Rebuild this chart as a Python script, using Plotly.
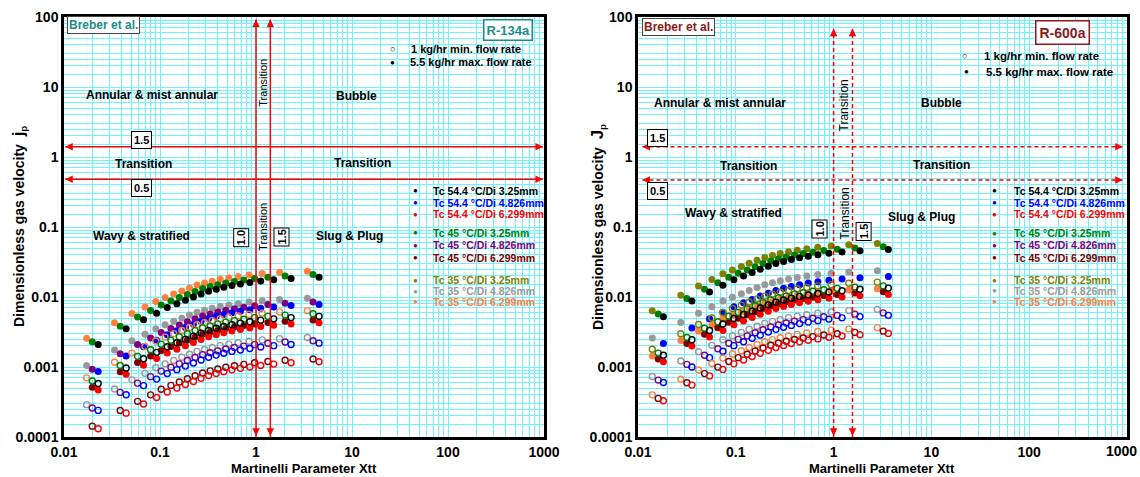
import math
import plotly.graph_objects as go

W, H = 1140, 477
FONT = "Arial, 'Liberation Sans', sans-serif"
GRID = "#6FF3FF"

# ---------------- DATA ----------------
# Martinelli parameter Xtt (one array per condensing-temperature group)
xtt_134a_35 = [0.0172, 0.0336, 0.0510, 0.0698, 0.0904, 0.113, 0.139, 0.169, 0.203, 0.243,
               0.291, 0.350, 0.424, 0.521, 0.653, 0.846, 1.16, 1.76, 3.43]
xtt_134a_45 = [0.0197, 0.0385, 0.0584, 0.0798, 0.103, 0.130, 0.159, 0.193, 0.232, 0.278,
               0.333, 0.400, 0.485, 0.596, 0.747, 0.968, 1.33, 2.01, 3.93]
xtt_134a_54 = [0.0227, 0.0444, 0.0674, 0.0922, 0.119, 0.150, 0.184, 0.223, 0.268, 0.321,
               0.385, 0.462, 0.561, 0.688, 0.863, 1.12, 1.53, 2.32, 4.54]

xtt_600a_35 = [0.0140, 0.0274, 0.0416, 0.0569, 0.0737, 0.0923, 0.114, 0.137, 0.165, 0.198,
               0.237, 0.285, 0.346, 0.425, 0.532, 0.689, 0.944, 1.43, 2.80]
xtt_600a_45 = [0.0161, 0.0316, 0.0479, 0.0655, 0.0848, 0.106, 0.131, 0.158, 0.190, 0.228,
               0.273, 0.328, 0.398, 0.489, 0.613, 0.794, 1.09, 1.65, 3.22]
xtt_600a_54 = [0.0182, 0.0356, 0.0539, 0.0738, 0.0956, 0.120, 0.147, 0.178, 0.215, 0.257,
               0.308, 0.370, 0.449, 0.551, 0.691, 0.895, 1.22, 1.86, 3.63]

# R-134a, dimensionless gas velocity Jg (filled = 5.5 kg/hr, open = 1 kg/hr)
j134_max_orange = [0.00257, 0.00429, 0.00581, 0.00720, 0.00864, 0.00982, 0.0110, 0.0122, 0.0135, 0.0148,
                   0.0158, 0.0168, 0.0179, 0.0188, 0.0197, 0.0207, 0.0216, 0.0225, 0.0234]
j134_max_green = [0.00229, 0.00382, 0.00518, 0.00641, 0.00769, 0.00875, 0.00980, 0.0109, 0.0120, 0.0132,
                  0.0141, 0.0150, 0.0159, 0.0167, 0.0175, 0.0184, 0.0192, 0.0200, 0.0209]
j134_max_black = [0.00210, 0.00351, 0.00475, 0.00588, 0.00706, 0.00802, 0.00899, 0.00998, 0.0110, 0.0121,
                  0.0129, 0.0138, 0.0146, 0.0153, 0.0161, 0.0169, 0.0176, 0.0184, 0.0192]
j134_max_grey = [0.00105, 0.00175, 0.00237, 0.00294, 0.00353, 0.00401, 0.00449, 0.00499, 0.00551, 0.00604,
                 0.00646, 0.00688, 0.00730, 0.00767, 0.00803, 0.00845, 0.00882, 0.00919, 0.00958]
j134_max_purple = [0.00093, 0.00155, 0.00210, 0.00260, 0.00312, 0.00355, 0.00398, 0.00442, 0.00488, 0.00535,
                   0.00572, 0.00609, 0.00646, 0.00679, 0.00711, 0.00749, 0.00781, 0.00814, 0.00848]
j134_max_blue = [0.00086, 0.00144, 0.00194, 0.00241, 0.00289, 0.00329, 0.00368, 0.00409, 0.00452, 0.00495,
                 0.00529, 0.00563, 0.00598, 0.00628, 0.00658, 0.00692, 0.00722, 0.00753, 0.00784]
j134_max_maroon = [0.000513, 0.000857, 0.00116, 0.00144, 0.00172, 0.00196, 0.00220, 0.00244, 0.00269, 0.00295,
                   0.00315, 0.00336, 0.00357, 0.00374, 0.00392, 0.00413, 0.00431, 0.00449, 0.00468]
j134_max_red = [0.00047, 0.000785, 0.00106, 0.00132, 0.00158, 0.00180, 0.00201, 0.00223, 0.00247, 0.00270,
                0.00289, 0.00308, 0.00327, 0.00343, 0.00360, 0.00378, 0.00395, 0.00411, 0.00429]
j134_min_orange = [0.00070, 0.00117, 0.00158, 0.00196, 0.00235, 0.00267, 0.00300, 0.00333, 0.00368, 0.00403,
                   0.00431, 0.00459, 0.00487, 0.00511, 0.00536, 0.00564, 0.00588, 0.00613, 0.00638]
j134_min_green = [0.00063, 0.00105, 0.00142, 0.00176, 0.00212, 0.00241, 0.00270, 0.00299, 0.00331, 0.00362,
                  0.00387, 0.00413, 0.00438, 0.00460, 0.00482, 0.00507, 0.00529, 0.00551, 0.00575]
j134_min_black = [0.00058, 0.000969, 0.00131, 0.00162, 0.00195, 0.00222, 0.00248, 0.00276, 0.00305, 0.00334,
                  0.00357, 0.00380, 0.00403, 0.00423, 0.00444, 0.00467, 0.00487, 0.00508, 0.00529]
j134_min_grey = [0.00029, 0.000484, 0.000655, 0.000812, 0.000974, 0.00111, 0.00124, 0.00138, 0.00152, 0.00167,
                 0.00178, 0.00190, 0.00202, 0.00212, 0.00222, 0.00233, 0.00244, 0.00254, 0.00264]
j134_min_purple = [0.00026, 0.000434, 0.000588, 0.000728, 0.000874, 0.000993, 0.00111, 0.00124, 0.00137, 0.00150,
                   0.00160, 0.00170, 0.00181, 0.00190, 0.00199, 0.00209, 0.00218, 0.00228, 0.00237]
j134_min_blue = [0.00024, 0.000401, 0.000542, 0.000672, 0.000806, 0.000917, 0.00103, 0.00114, 0.00126, 0.00138,
                 0.00148, 0.00157, 0.00167, 0.00175, 0.00184, 0.00193, 0.00202, 0.00210, 0.00219]
j134_min_maroon = [0.000143, 0.000239, 0.000323, 0.000400, 0.000480, 0.000546, 0.000612, 0.000679, 0.000751, 0.000822,
                   0.000879, 0.000937, 0.000994, 0.00104, 0.00109, 0.00115, 0.00120, 0.00125, 0.00130]
j134_min_red = [0.000131, 0.000219, 0.000296, 0.000367, 0.000440, 0.000500, 0.000561, 0.000622, 0.000688, 0.000753,
                0.000806, 0.000858, 0.000910, 0.000956, 0.00100, 0.00105, 0.00110, 0.00115, 0.00119]

# R-600a
j600_max_olive = [0.00637, 0.0106, 0.0144, 0.0178, 0.0214, 0.0243, 0.0273, 0.0303, 0.0334, 0.0366,
                  0.0392, 0.0417, 0.0443, 0.0465, 0.0487, 0.0513, 0.0535, 0.0557, 0.0581]
j600_max_green = [0.00571, 0.00954, 0.0129, 0.0160, 0.0192, 0.0218, 0.0244, 0.0271, 0.0300, 0.0328,
                  0.0351, 0.0374, 0.0397, 0.0417, 0.0437, 0.0460, 0.0480, 0.0500, 0.0521]
j600_max_black = [0.00524, 0.00875, 0.0118, 0.0147, 0.0176, 0.0200, 0.0224, 0.0249, 0.0275, 0.0301,
                  0.0322, 0.0343, 0.0364, 0.0383, 0.0401, 0.0422, 0.0440, 0.0459, 0.0478]
j600_max_grey = [0.00260, 0.00434, 0.00588, 0.00728, 0.00874, 0.00993, 0.0111, 0.0124, 0.0137, 0.0150,
                 0.0160, 0.0170, 0.0181, 0.0190, 0.0199, 0.0209, 0.0218, 0.0228, 0.0237]
j600_max_blue = [0.00216, 0.00361, 0.00488, 0.00605, 0.00726, 0.00825, 0.00924, 0.0103, 0.0113, 0.0124,
                 0.0133, 0.0141, 0.0150, 0.0158, 0.0165, 0.0174, 0.0181, 0.0189, 0.0197]
j600_max_orange = [0.00144, 0.00240, 0.00325, 0.00403, 0.00484, 0.00550, 0.00616, 0.00684, 0.00756, 0.00828,
                   0.00886, 0.00943, 0.0100, 0.0105, 0.0110, 0.0116, 0.0121, 0.0126, 0.0131]
j600_max_maroon = [0.00130, 0.00217, 0.00294, 0.00364, 0.00437, 0.00497, 0.00556, 0.00618, 0.00683, 0.00748,
                   0.00800, 0.00852, 0.00904, 0.00949, 0.00995, 0.0105, 0.0109, 0.0114, 0.0119]
j600_max_red = [0.00119, 0.00199, 0.00269, 0.00333, 0.00400, 0.00455, 0.00509, 0.00565, 0.00625, 0.00684,
                0.00732, 0.00779, 0.00827, 0.00869, 0.00910, 0.00958, 0.0100, 0.0104, 0.0109]
j600_min_olive = [0.00179, 0.00299, 0.00405, 0.00501, 0.00601, 0.00684, 0.00766, 0.00850, 0.00940, 0.0103,
                  0.0110, 0.0117, 0.0124, 0.0131, 0.0137, 0.0144, 0.0150, 0.0157, 0.0163]
j600_min_green = [0.00158, 0.00264, 0.00357, 0.00442, 0.00531, 0.00604, 0.00676, 0.00751, 0.00830, 0.00909,
                  0.00972, 0.0103, 0.0110, 0.0115, 0.0121, 0.0127, 0.0133, 0.0138, 0.0144]
j600_min_black = [0.00147, 0.00245, 0.00332, 0.00412, 0.00494, 0.00562, 0.00629, 0.00698, 0.00772, 0.00845,
                  0.00904, 0.00963, 0.0102, 0.0107, 0.0112, 0.0118, 0.0123, 0.0129, 0.0134]
j600_min_grey = [0.00073, 0.00122, 0.00165, 0.00204, 0.00245, 0.00279, 0.00312, 0.00347, 0.00383, 0.00420,
                 0.00449, 0.00478, 0.00507, 0.00533, 0.00558, 0.00588, 0.00613, 0.00639, 0.00666]
j600_min_purple = [0.00065, 0.00109, 0.00147, 0.00182, 0.00218, 0.00248, 0.00278, 0.00309, 0.00341, 0.00374,
                   0.00400, 0.00426, 0.00452, 0.00475, 0.00497, 0.00523, 0.00546, 0.00569, 0.00593]
j600_min_blue = [0.00060, 0.00100, 0.00136, 0.00168, 0.00202, 0.00229, 0.00257, 0.00285, 0.00315, 0.00345,
                 0.00369, 0.00393, 0.00417, 0.00438, 0.00459, 0.00483, 0.00504, 0.00525, 0.00547]
j600_min_orange = [0.00040, 0.000668, 0.000904, 0.00112, 0.00134, 0.00153, 0.00171, 0.00190, 0.00210, 0.00230,
                   0.00246, 0.00262, 0.00278, 0.00292, 0.00306, 0.00322, 0.00336, 0.00350, 0.00365]
j600_min_maroon = [0.000356, 0.000595, 0.000805, 0.000997, 0.00120, 0.00136, 0.00152, 0.00169, 0.00187, 0.00205,
                   0.00219, 0.00233, 0.00247, 0.00260, 0.00272, 0.00287, 0.00299, 0.00312, 0.00325]
j600_min_red = [0.00033, 0.000551, 0.000746, 0.000924, 0.00111, 0.00126, 0.00141, 0.00157, 0.00173, 0.00190,
                0.00203, 0.00216, 0.00229, 0.00241, 0.00252, 0.00266, 0.00277, 0.00289, 0.00301]

# flow-regime boundary values
jg_bounds_134a = [1.40, 0.48]
xtt_bounds_134a = [1.0, 1.41]
jg_bounds_600a = [1.40, 0.47]
xtt_bounds_600a = [1.0, 1.56]

legend_labels = ["Tc 54.4 \u00b0C/Di 3.25mm", "Tc 54.4 \u00b0C/Di 4.826mm", "Tc 54.4 \u00b0C/Di 6.299mm",
                 "Tc 45 \u00b0C/Di 3.25mm", "Tc 45 \u00b0C/Di 4.826mm", "Tc 45 \u00b0C/Di 6.299mm",
                 "Tc 35 \u00b0C/Di 3.25mm", "Tc 35 \u00b0C/Di 4.826mm", "Tc 35 \u00b0C/Di 6.299mm"]

C = dict(black="#000000", blue="#0000FF", red="#FF0000", green="#008000", purple="#800080",
         maroon="#800000", olive="#808000", grey="#999999", orange="#FF8040")
legend_colors = [C["black"], C["blue"], C["red"], C["green"], C["purple"], C["maroon"],
                 C["olive"], C["grey"], C["orange"]]

# ---------------- FIGURE ----------------
fig = go.Figure()


def add_series(x, y, color, filled, ax):
    xa, ya = ("x", "y") if ax == 1 else ("x2", "y2")
    if filled:
        marker = dict(symbol="circle", size=7, color=color, line=dict(width=0))
    else:
        marker = dict(symbol="circle-open", size=6, color=color, line=dict(width=1.4, color=color))
    fig.add_trace(go.Scatter(x=x, y=y, mode="markers", marker=marker, xaxis=xa, yaxis=ya,
                             showlegend=False, hoverinfo="skip"))


# R-134a
for x, y, col, f in [
    (xtt_134a_35, j134_max_orange, "orange", True), (xtt_134a_45, j134_max_green, "green", True),
    (xtt_134a_54, j134_max_black, "black", True), (xtt_134a_35, j134_max_grey, "grey", True),
    (xtt_134a_45, j134_max_purple, "purple", True), (xtt_134a_54, j134_max_blue, "blue", True),
    (xtt_134a_45, j134_max_maroon, "maroon", True), (xtt_134a_54, j134_max_red, "red", True),
    (xtt_134a_35, j134_min_orange, "orange", False), (xtt_134a_45, j134_min_green, "green", False),
    (xtt_134a_54, j134_min_black, "black", False), (xtt_134a_35, j134_min_grey, "grey", False),
    (xtt_134a_45, j134_min_purple, "purple", False), (xtt_134a_54, j134_min_blue, "blue", False),
    (xtt_134a_45, j134_min_maroon, "maroon", False), (xtt_134a_54, j134_min_red, "red", False),
]:
    add_series(x, y, C[col], f, 1)

# R-600a
for x, y, col, f in [
    (xtt_600a_35, j600_max_olive, "olive", True), (xtt_600a_45, j600_max_green, "green", True),
    (xtt_600a_54, j600_max_black, "black", True), (xtt_600a_35, j600_max_grey, "grey", True),
    (xtt_600a_54, j600_max_blue, "blue", True), (xtt_600a_35, j600_max_orange, "orange", True),
    (xtt_600a_45, j600_max_maroon, "maroon", True), (xtt_600a_54, j600_max_red, "red", True),
    (xtt_600a_35, j600_min_olive, "olive", False), (xtt_600a_45, j600_min_green, "green", False),
    (xtt_600a_54, j600_min_black, "black", False), (xtt_600a_35, j600_min_grey, "grey", False),
    (xtt_600a_45, j600_min_purple, "purple", False), (xtt_600a_54, j600_min_blue, "blue", False),
    (xtt_600a_35, j600_min_orange, "orange", False), (xtt_600a_45, j600_min_maroon, "maroon", False),
    (xtt_600a_54, j600_min_red, "red", False),
]:
    add_series(x, y, C[col], f, 2)

annotations = []


def P(px, py):
    return px / W, 1 - py / H


def txt(px, py, text, size=12, color="black", angle=0, box=None, bold=True, xanchor="center", boxw=1, pad=2):
    x, y = P(px, py)
    a = dict(x=x, y=y, xref="paper", yref="paper", text=text, showarrow=False, textangle=angle,
             xanchor=xanchor, yanchor="middle",
             font=dict(family=FONT, size=size, color=color, weight="bold" if bold else "normal"))
    if box:
        a.update(bordercolor=box, borderwidth=boxw, borderpad=pad, bgcolor="white")
    annotations.append(a)


def red_lines(ax, hvals, vvals, xl, xr, ytop, dash):
    xa, ya = ("x", "y") if ax == 1 else ("x2", "y2")
    for hv in hvals:
        fig.add_trace(go.Scatter(x=[xl, xr], y=[hv, hv], mode="lines", xaxis=xa, yaxis=ya,
                                 line=dict(color="red", width=1.5, dash=dash), showlegend=False, hoverinfo="skip"))
        for xh, axp in [(xl, 9), (xr, -9)]:
            annotations.append(dict(x=math.log10(xh), y=math.log10(hv), xref=xa, yref=ya, ax=axp, ay=0,
                                    showarrow=True, arrowhead=2, arrowsize=1, arrowwidth=1.5,
                                    arrowcolor="red", text=""))
    for vv in vvals:
        fig.add_trace(go.Scatter(x=[vv, vv], y=[1.0e-4, ytop], mode="lines", xaxis=xa, yaxis=ya,
                                 line=dict(color="red", width=1.5, dash=dash), showlegend=False, hoverinfo="skip"))
        for yh, ayp in [(ytop, 9), (1.04e-4, -9)]:
            annotations.append(dict(x=math.log10(vv), y=math.log10(yh), xref=xa, yref=ya, ax=0, ay=ayp,
                                    showarrow=True, arrowhead=2, arrowsize=1, arrowwidth=1.5,
                                    arrowcolor="red", text=""))


red_lines(1, jg_bounds_134a, xtt_bounds_134a, 0.0103, 975, 92, "solid")
red_lines(2, jg_bounds_600a, xtt_bounds_600a, 0.0111, 905, 68, "4px,3px")

TEAL = "#1A8C8C"
MAROON = "#8B1A1A"

# ---- left panel texts
txt(103, 25.5, "Breber et al.", 12, TEAL, box="#444444", pad=1)
txt(508, 29.5, "R-134a", 13, TEAL, box=TEAL, boxw=1.5, pad=2)
txt(392.7, 49, "\u25cb", 9, "black", bold=False)
txt(408.5, 49, "1 kg/hr min. flow rate", 11, xanchor="left")
txt(392.7, 62.3, "\u25cf", 8, "black", bold=False)
txt(407.5, 62.3, "5.5 kg/hr max. flow rate", 11, xanchor="left")
txt(152, 95, "Annular & mist annular", 12)
txt(356, 96, "Bubble", 12)
txt(141, 139.7, "1.5", 11, box="black", pad=2)
txt(143, 164, "Transition", 12)
txt(362, 163, "Transition", 12)
txt(141, 187.5, "0.5", 11, box="black", pad=2)
txt(262.7, 83, "Transition", 11, angle=-90, bold=False)
txt(262.7, 227, "Transition", 11, angle=-90, bold=False)
txt(240.7, 237.5, "1.0", 11, angle=-90, box="black", pad=1)
txt(281.5, 237, "1.5", 11, angle=-90, box="black", pad=1)
txt(141.7, 236, "Wavy & stratified", 12)
txt(349, 236, "Slug & Plug", 12)
rows_y = [190.7, 202.7, 214.3, 232.7, 245.3, 257.7, 280, 291, 301.7]
for ry, lab, col in zip(rows_y, legend_labels, legend_colors):
    txt(415, ry, "\u25cf", 8, col, bold=False)
    txt(431, ry, lab, 10.5, col, xanchor="left")

# ---- right panel texts
txt(678, 26.5, "Breber et al.", 12, MAROON, box="#444444", pad=1)
txt(1062, 32, "R-600a", 14, MAROON, box=MAROON, boxw=1.5, pad=3)
txt(964, 56, "\u25cb", 9, "black", bold=False)
txt(981.5, 56, "1 kg/hr min. flow rate", 11.5, xanchor="left")
txt(966.7, 72, "\u25cf", 8, "black", bold=False)
txt(984, 72, "5.5 kg/hr max. flow rate", 11.5, xanchor="left")
txt(720, 102.7, "Annular & mist annular", 12)
txt(941.7, 102.7, "Bubble", 12)
txt(657.8, 138.3, "1.5", 11, box="black", pad=2)
txt(748, 165.7, "Transition", 12)
txt(941.3, 165, "Transition", 12)
txt(657.8, 190.8, "0.5", 11, box="black", pad=2)
txt(733.3, 213.3, "Wavy & stratified", 12)
txt(921, 216.7, "Slug & Plug", 12)
txt(843.5, 106, "Transition", 12, angle=-90, bold=False)
txt(844.5, 214, "Transition", 12, angle=-90, bold=False)
txt(819.5, 229, "1.0", 11, angle=-90, box="black", pad=1)
txt(863.3, 231.7, "1.5", 11, angle=-90, box="black", pad=1)
rows_y2 = [190.7, 202.7, 214.3, 233.3, 245.3, 257.7, 280, 290.7, 301.7]
for ry, lab, col in zip(rows_y2, legend_labels, legend_colors):
    txt(994.3, ry, "\u25cf", 8, col, bold=False)
    txt(1011.5, ry, lab, 10.5, col, xanchor="left")

# ---- axis titles
txt(304, 468, "Martinelli Parameter Xtt", 13)
txt(882, 468, "Martinelli Parameter Xtt", 13)
txt(19, 227, "Dimensionless gas velocity  <span style='font-size:17px'>j</span><sub>p</sub>", 14, angle=-90)
txt(598, 227, "Dimensionless gas velocity  <span style='font-size:17px'>J</span><sub>p</sub>", 14, angle=-90)
# last x tick label of the right panel (placed by hand so it is not clipped at the page edge)
txt(1139, 451, "1000", 14, xanchor="right")

xticks = [0.01, 0.1, 1, 10, 100, 1000]
xticktext = ["0.01", "0.1", "1", "10", "100", "1000"]
xticktext2 = ["0.01", "0.1", "1", "10", "100", ""]
yticks = [0.0001, 0.001, 0.01, 0.1, 1, 10, 100]
yticktext = ["0.0001", "0.001", "0.01", "0.1", "1", "10", "100"]
xminor = [k * 10 ** e for e in range(-2, 3) for k in range(2, 10)]
yminor = [k * 10 ** e for e in range(-4, 2) for k in [1.5, 2, 2.5, 3, 4, 5, 6, 7, 8, 9]]


def axis(domain, vals, texts, minor, rng, anchor):
    return dict(type="log", domain=domain, range=rng, anchor=anchor, showline=True, linecolor="black",
                linewidth=2.5, mirror=True, showgrid=True, gridcolor=GRID, gridwidth=1, zeroline=False,
                tickmode="array", tickvals=vals, ticktext=texts, ticks="",
                tickfont=dict(family=FONT, size=14, color="black", weight="bold"),
                minor=dict(tickmode="array", tickvals=minor, showgrid=True, gridcolor=GRID, gridwidth=1, ticks=""),
                automargin=False, fixedrange=True)


ydom = [40 / H, 460 / H]
fig.update_layout(
    width=W, height=H, margin=dict(l=0, r=0, t=0, b=0),
    paper_bgcolor="white", plot_bgcolor="white", showlegend=False,
    xaxis=axis([64 / W, 544 / W], xticks, xticktext, xminor, [-2, 3], "y"),
    yaxis=axis(ydom, yticks, yticktext, yminor, [-4, 2], "x"),
    xaxis2=axis([638 / W, 1127 / W], xticks, xticktext2, xminor, [-2, 3], "y2"),
    yaxis2=axis(ydom, yticks, yticktext, yminor, [-4, 2], "x2"),
    annotations=annotations,
)

fig.write_html("out.html")
